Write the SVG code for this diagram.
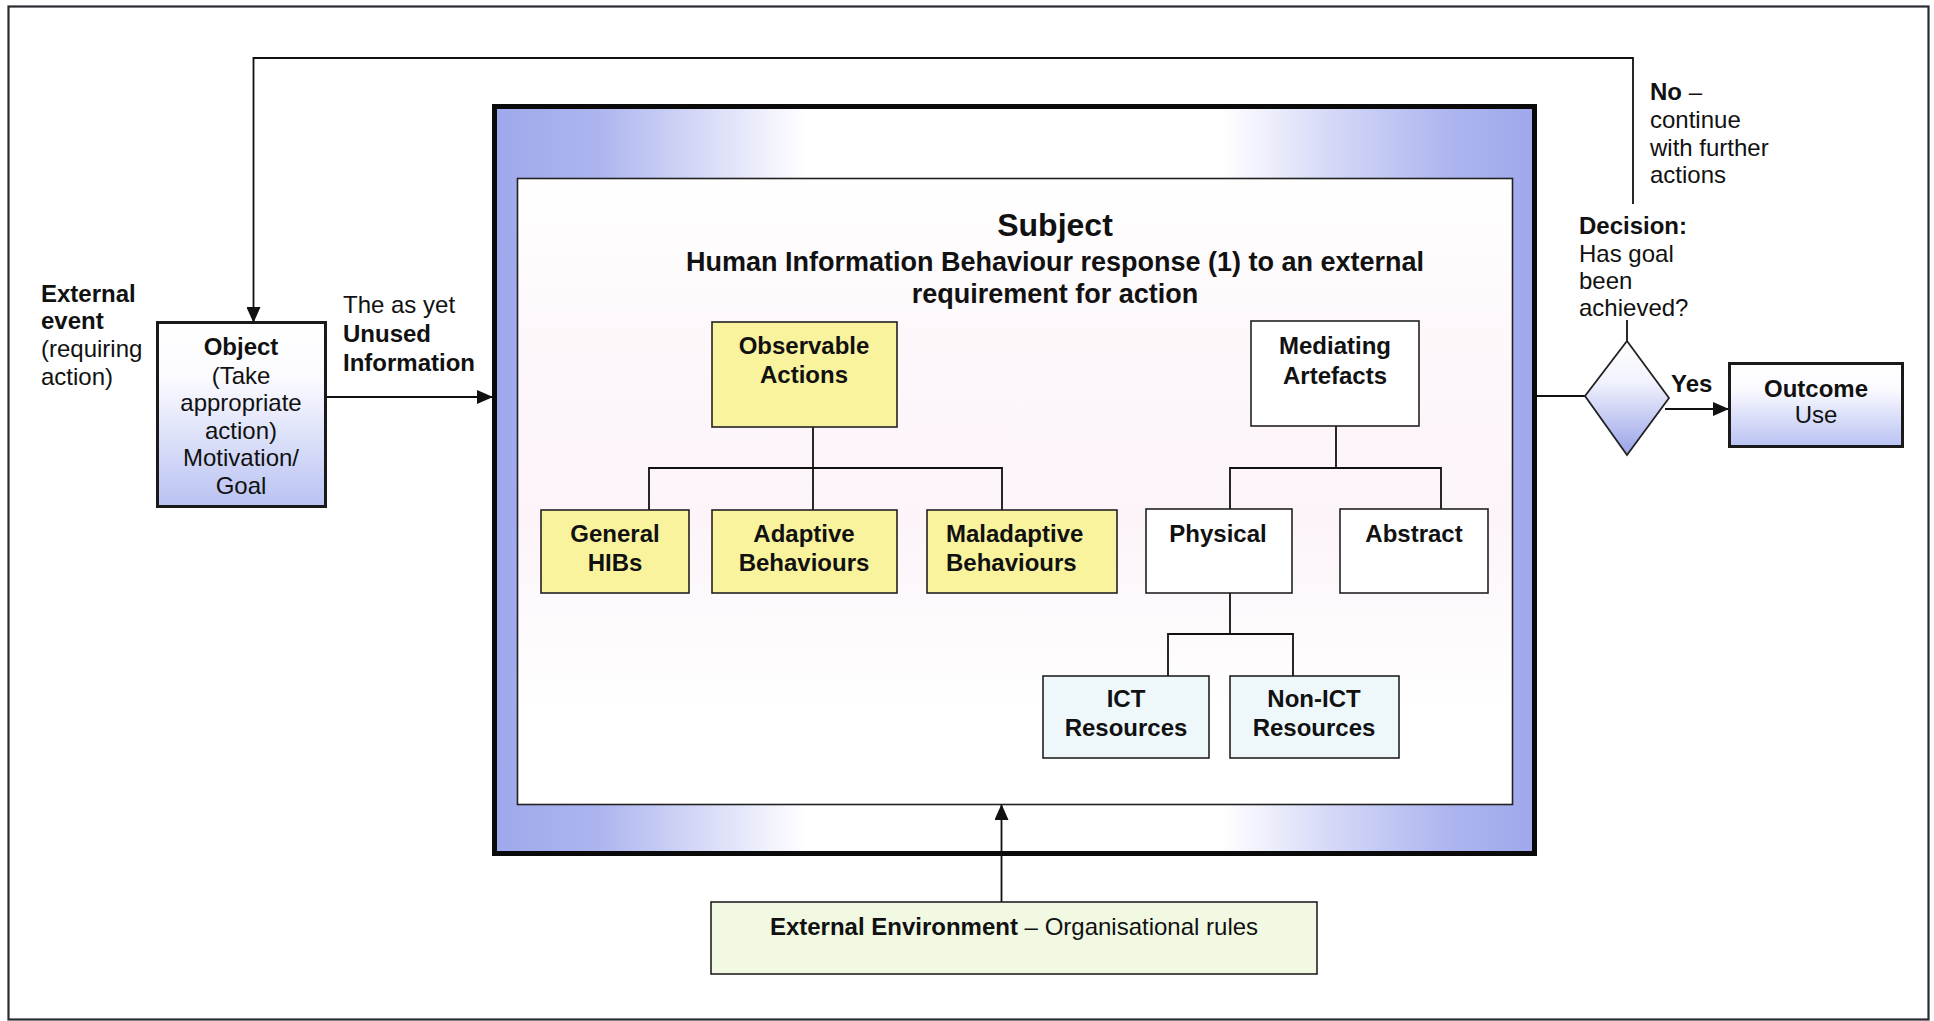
<svg xmlns="http://www.w3.org/2000/svg" width="1934" height="1021" viewBox="0 0 1934 1021">
<defs>
<style>
text{font-family:"Liberation Sans",Arial,Helvetica,sans-serif;fill:#111;}
.t{font-size:24px;}
.b{font-weight:bold;}
.m{text-anchor:middle;}
.box{stroke:#222;stroke-width:1.6;}
.yel{fill:#faf39d;}
.wht{fill:#ffffff;}
.cy{fill:#eef8fb;}
.ln{fill:none;stroke:#111;stroke-width:1.8;}
</style>
<linearGradient id="frameG" x1="0" y1="0" x2="1" y2="0">
<stop offset="0" stop-color="#9fa8ec"/>
<stop offset="0.10" stop-color="#adb5ef"/>
<stop offset="0.20" stop-color="#d6daf7"/>
<stop offset="0.30" stop-color="#ffffff"/>
<stop offset="0.70" stop-color="#ffffff"/>
<stop offset="0.80" stop-color="#d6daf7"/>
<stop offset="0.92" stop-color="#adb5ef"/>
<stop offset="1" stop-color="#9fa8ec"/>
</linearGradient>
<linearGradient id="innerG" x1="0" y1="0" x2="0" y2="1">
<stop offset="0" stop-color="#ffffff"/>
<stop offset="0.3" stop-color="#fdf6fa"/>
<stop offset="0.55" stop-color="#fcf4f9"/>
<stop offset="0.85" stop-color="#ffffff"/>
</linearGradient>
<linearGradient id="boxG" x1="0" y1="0" x2="0" y2="1">
<stop offset="0" stop-color="#ffffff"/>
<stop offset="0.3" stop-color="#fbfbff"/>
<stop offset="1" stop-color="#b9c2f2"/>
</linearGradient>
<linearGradient id="diaG" x1="0" y1="0" x2="0" y2="1">
<stop offset="0" stop-color="#ffffff"/>
<stop offset="0.35" stop-color="#f2f3fd"/>
<stop offset="1" stop-color="#98a2e8"/>
</linearGradient>
<marker id="arr" markerUnits="userSpaceOnUse" markerWidth="16" markerHeight="14" refX="15" refY="7" orient="auto">
<path d="M0,0 L16,7 L0,14 Z" fill="#111"/>
</marker>
</defs>

<rect x="0" y="0" width="1934" height="1021" fill="#ffffff"/>
<rect id="border" x="8.5" y="6.5" width="1920" height="1013" fill="none" stroke="#2a2a33" stroke-width="2.2"/>

<g id="subject">
<rect x="494.5" y="106.5" width="1040" height="747" fill="url(#frameG)" stroke="#0a0a0a" stroke-width="5"/>
<rect x="517.5" y="178.5" width="995" height="626" fill="url(#innerG)" stroke="#222" stroke-width="1.6"/>
<text class="b m" x="1055" y="236" style="font-size:32px">Subject</text>
<text class="b m" x="1055" y="271" style="font-size:27px">Human Information Behaviour response (1) to an external</text>
<text class="b m" x="1055" y="303" style="font-size:27px">requirement for action</text>
</g>

<g id="connectors">
<polyline class="ln" points="1633,204 1633,58 253.5,58 253.5,322" marker-end="url(#arr)"/>
<line class="ln" x1="326" y1="397" x2="492" y2="397" marker-end="url(#arr)"/>
<line class="ln" x1="1537" y1="396" x2="1585" y2="396"/>
<line class="ln" x1="1627" y1="320" x2="1627" y2="341"/>
<line class="ln" x1="1665" y1="409" x2="1728" y2="409" marker-end="url(#arr)"/>
<line class="ln" x1="1001.5" y1="902" x2="1001.5" y2="805" marker-end="url(#arr)"/>
<polyline class="ln" points="813,427 813,468"/>
<polyline class="ln" points="649,510 649,468 1002,468 1002,510"/>
<line class="ln" x1="813" y1="468" x2="813" y2="510"/>
<polyline class="ln" points="1336,426 1336,468"/>
<polyline class="ln" points="1230,509 1230,468 1441,468 1441,509"/>
<polyline class="ln" points="1230,593 1230,634"/>
<polyline class="ln" points="1168,676 1168,634 1293,634 1293,676"/>
</g>

<g id="external-event">
<text class="t b" x="41" y="302">External</text>
<text class="t b" x="41" y="329">event</text>
<text class="t" x="41" y="357">(requiring</text>
<text class="t" x="41" y="385">action)</text>
</g>

<g id="object">
<rect x="157.5" y="322.5" width="168" height="184" fill="url(#boxG)" stroke="#1a1a1a" stroke-width="3"/>
<text class="t b m" x="241" y="355">Object</text>
<text class="t m" x="241" y="384">(Take</text>
<text class="t m" x="241" y="411">appropriate</text>
<text class="t m" x="241" y="439">action)</text>
<text class="t m" x="241" y="466">Motivation/</text>
<text class="t m" x="241" y="494">Goal</text>
</g>

<g id="unused-info">
<text class="t" x="343" y="313">The as yet</text>
<text class="t b" x="343" y="342">Unused</text>
<text class="t b" x="343" y="371">Information</text>
</g>

<g id="observable-actions">
<rect class="box yel" x="712" y="322" width="185" height="105"/>
<text class="t b m" x="804" y="354">Observable</text>
<text class="t b m" x="804" y="383">Actions</text>
</g>

<g id="general-hibs">
<rect class="box yel" x="541" y="510" width="148" height="83"/>
<text class="t b m" x="615" y="542">General</text>
<text class="t b m" x="615" y="571">HIBs</text>
</g>

<g id="adaptive">
<rect class="box yel" x="712" y="510" width="185" height="83"/>
<text class="t b m" x="804" y="542">Adaptive</text>
<text class="t b m" x="804" y="571">Behaviours</text>
</g>

<g id="maladaptive">
<rect class="box yel" x="927" y="510" width="190" height="83"/>
<text class="t b" x="946" y="542">Maladaptive</text>
<text class="t b" x="946" y="571">Behaviours</text>
</g>

<g id="mediating-artefacts">
<rect class="box wht" x="1251" y="321" width="168" height="105"/>
<text class="t b m" x="1335" y="354">Mediating</text>
<text class="t b m" x="1335" y="384">Artefacts</text>
</g>

<g id="physical">
<rect class="box wht" x="1146" y="509" width="146" height="84"/>
<text class="t b m" x="1218" y="542">Physical</text>
</g>

<g id="abstract">
<rect class="box wht" x="1340" y="509" width="148" height="84"/>
<text class="t b m" x="1414" y="542">Abstract</text>
</g>

<g id="ict">
<rect class="box cy" x="1043" y="676" width="166" height="82"/>
<text class="t b m" x="1126" y="707">ICT</text>
<text class="t b m" x="1126" y="736">Resources</text>
</g>

<g id="non-ict">
<rect class="box cy" x="1230" y="676" width="169" height="82"/>
<text class="t b m" x="1314" y="707">Non-ICT</text>
<text class="t b m" x="1314" y="736">Resources</text>
</g>

<g id="no-label">
<text class="t" x="1650" y="100"><tspan class="b">No</tspan> –</text>
<text class="t" x="1650" y="128">continue</text>
<text class="t" x="1650" y="156">with further</text>
<text class="t" x="1650" y="183">actions</text>
</g>

<g id="decision">
<text class="t b" x="1579" y="234">Decision:</text>
<text class="t" x="1579" y="262">Has goal</text>
<text class="t" x="1579" y="289">been</text>
<text class="t" x="1579" y="316">achieved?</text>
<polygon points="1627,341 1669,398 1627,455 1585,396" fill="url(#diaG)" stroke="#222" stroke-width="1.8"/>
</g>

<g id="yes-label">
<text class="t b" x="1671" y="392">Yes</text>
</g>

<g id="outcome">
<rect x="1729.5" y="363.5" width="173" height="83" fill="url(#boxG)" stroke="#1a1a1a" stroke-width="3"/>
<text class="t b m" x="1816" y="397">Outcome</text>
<text class="t m" x="1816" y="423">Use</text>
</g>

<g id="external-environment">
<rect class="box" x="711" y="902" width="606" height="72" fill="#f2f9e3"/>
<text class="t m" x="1014" y="935"><tspan class="b">External Environment</tspan> – Organisational rules</text>
</g>
</svg>
